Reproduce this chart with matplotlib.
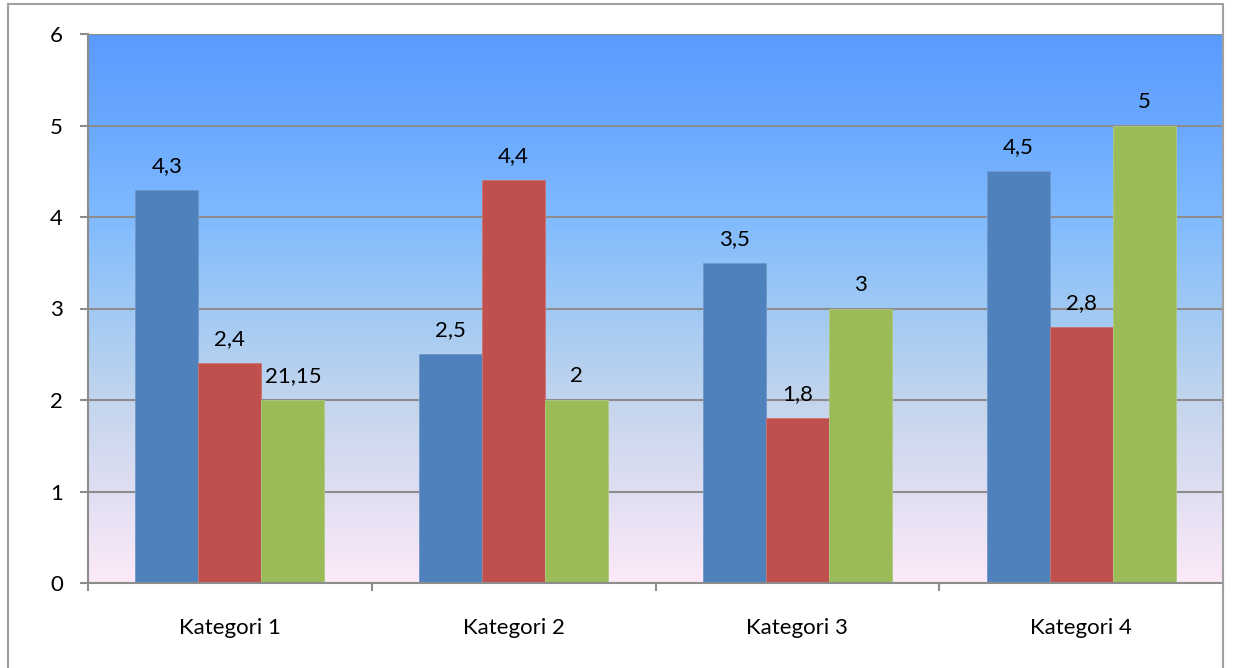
import matplotlib
matplotlib.use("Agg")
import matplotlib.pyplot as plt
import numpy as np
from matplotlib.colors import LinearSegmentedColormap
from matplotlib.patches import Rectangle

categories = ["Kategori 1", "Kategori 2", "Kategori 3", "Kategori 4"]
series_1 = [4.3, 2.5, 3.5, 4.5]
series_2 = [2.4, 4.4, 1.8, 2.8]
series_3 = [2, 2, 3, 5]
labels_1 = ["4,3", "2,5", "3,5", "4,5"]
labels_2 = ["2,4", "4,4", "1,8", "2,8"]
labels_3 = ["21,15", "2", "3", "5"]
y_ticks = [0, 1, 2, 3, 4, 5, 6]

plt.rcParams["font.family"] = ["Lato", "DejaVu Sans"]

fig = plt.figure(figsize=(12.38, 6.68), dpi=100, facecolor="white")
W, H = 1238, 668
ax = fig.add_axes([88 / W, 1 - 583 / H, (1223 - 88) / W, (583 - 34) / H])

# gradient plot area (bottom pink -> top blue)
grad = LinearSegmentedColormap.from_list(
    "bg",
    [(0.0, "#fdeaf8"), (0.17, "#dfdef2"), (0.33, "#c3d5ed"), (0.5, "#a0c9f4"),
     (0.67, "#7fbafe"), (0.83, "#6aa9ff"), (1.0, "#5b9bff")],
)
ax.imshow(np.linspace(0, 1, 256).reshape(-1, 1), cmap=grad, origin="lower",
          extent=[0, 1, 0, 1], transform=ax.transAxes, aspect="auto", zorder=0)

x = np.arange(len(categories))
width = 1 / 4.5
colors = ("#4f81bd", "#c0504d", "#9bbb59")
edges = ("#6f97c9", "#cc726f", "#afc97d")
for i, (vals, labs) in enumerate(((series_1, labels_1), (series_2, labels_2), (series_3, labels_3))):
    bars = ax.bar(x + (i - 1) * width, vals, width, color=colors[i],
                  edgecolor=edges[i], linewidth=0.6, zorder=2)
    for bar, lab in zip(bars, labs):
        ax.annotate(lab, (bar.get_x() + bar.get_width() / 2, bar.get_height()),
                    xytext=(0, 10), textcoords="offset points",
                    ha="center", va="bottom", fontsize=16, color="black", zorder=3)

ax.set_xlim(-0.5, len(categories) - 0.5)
ax.set_ylim(0, 6)
ax.set_yticks(y_ticks)
ax.set_yticklabels([str(v) for v in y_ticks], fontsize=16)
ax.grid(axis="y", color="#8c8c8c", linewidth=1.5, zorder=1)

ax.set_xticks(np.arange(-0.5, len(categories)), [""] * (len(categories) + 1))
ax.set_xticks(x, categories, minor=True, fontsize=16)
ax.tick_params(axis="x", which="minor", length=0, pad=25)
ax.tick_params(axis="x", which="major", length=6, width=1.5, color="#8c8c8c", direction="out")
ax.tick_params(axis="y", length=6, width=1.5, color="#8c8c8c", pad=12)

for side in ("top", "right"):
    ax.spines[side].set_visible(False)
for side in ("left", "bottom"):
    ax.spines[side].set_color("#8c8c8c")
    ax.spines[side].set_linewidth(1.5)

# outer chart border
fig.patches.append(Rectangle((8 / W, -0.05), (1223 - 8) / W, 1.05 - 4 / H,
                             transform=fig.transFigure, fill=False,
                             edgecolor="#a0a0a0", linewidth=1.5, zorder=5))

fig.savefig("out.png", dpi=100, facecolor="white")
